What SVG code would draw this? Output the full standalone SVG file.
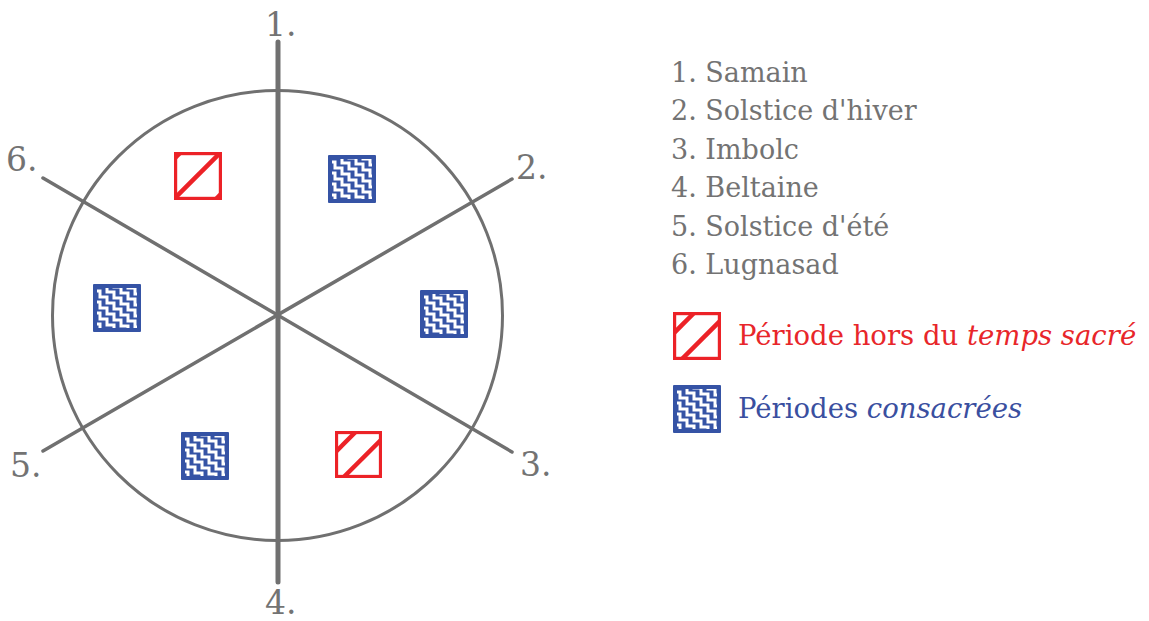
<svg xmlns="http://www.w3.org/2000/svg" xmlns:xlink="http://www.w3.org/1999/xlink" width="1149" height="621" viewBox="0 0 1149 621">
<style>
.ax{stroke:#707070;fill:none;stroke-linecap:round}
.num{font-family:"DejaVu Serif","Liberation Serif",serif;font-size:33px;fill:#737373}
.leg{font-family:"DejaVu Serif","Liberation Serif",serif;font-size:27px;fill:#737373}
.red{font-family:"DejaVu Serif","Liberation Serif",serif;font-size:27.5px;fill:#e8262a}
.blue{font-family:"DejaVu Serif","Liberation Serif",serif;font-size:27.5px;fill:#3a4f9f}
.it{font-style:italic}
.rb{fill:#fff;stroke:#ec2227;stroke-width:3.2}
.rh{stroke:#ec2227;stroke-width:4.5}
.st{fill:none;stroke:#fff;stroke-width:3}
</style>
<defs>
<clipPath id="inner"><rect x="4" y="4" width="40" height="40"/></clipPath>
<symbol id="redA" viewBox="0 0 48 48">
<rect class="rb" x="1.6" y="1.6" width="44.8" height="44.8"/>
<line class="rh" x1="-2" y1="9" x2="9" y2="-2"/>
<line class="rh" x1="-2" y1="49" x2="49" y2="-2"/>
<line class="rh" x1="39" y1="50" x2="50" y2="39"/>
</symbol>
<symbol id="redB" viewBox="0 0 48 48">
<rect class="rb" x="1.6" y="1.6" width="44.8" height="44.8"/>
<line class="rh" x1="-2" y1="24" x2="24" y2="-2"/>
<line class="rh" x1="6" y1="50" x2="50" y2="6"/>
</symbol>
<symbol id="blueT" viewBox="0 0 48 48">
<rect x="0" y="0" width="48" height="48" fill="#3553a5" rx="1"/>
<g clip-path="url(#inner)">
<path class="st" id="stair" d="M0,-4 h7 v6 h7 v6 h7 v6 h7 v6 h7 v6 h7 v6 h7 v6 h7 v6"/>
<use href="#stair" y="11"/>
<use href="#stair" y="22"/>
<use href="#stair" y="33"/>
<use href="#stair" y="44"/>
<use href="#stair" y="-11"/>
<use href="#stair" y="-22"/>
<use href="#stair" y="-33"/>
<use href="#stair" y="-44"/>
</g>
</symbol>
</defs>
<rect width="1149" height="621" fill="#fff"/>
<g id="connectors">
<circle class="ax" cx="277.5" cy="315.5" r="225" stroke-width="3"/>
<line class="ax" x1="43" y1="178" x2="512" y2="452" stroke-width="3.5"/>
<line class="ax" x1="512" y1="179" x2="43" y2="451" stroke-width="3.5"/>
<line class="ax" x1="278" y1="42" x2="278" y2="582" stroke-width="5" stroke-linecap="butt"/>
</g>
<g id="labels">
<text class="num" x="265" y="36">1.</text>
<text class="num" x="516" y="179">2.</text>
<text class="num" x="520" y="476">3.</text>
<text class="num" x="265" y="614">4.</text>
<text class="num" x="10" y="477">5.</text>
<text class="num" x="6" y="171">6.</text>
</g>
<g id="sectors">
<use href="#redA" x="174" y="152" width="48" height="48"/>
<use href="#blueT" x="328" y="155" width="48" height="48"/>
<use href="#blueT" x="420" y="290" width="48" height="48"/>
<use href="#redB" x="335" y="431" width="47" height="47"/>
<use href="#blueT" x="181" y="432" width="48" height="48"/>
<use href="#blueT" x="93" y="284" width="48" height="48"/>
</g>
<g id="legend">
<text class="leg" x="671" y="82">1. Samain</text>
<text class="leg" x="671" y="120">2. Solstice d'hiver</text>
<text class="leg" x="671" y="159">3. Imbolc</text>
<text class="leg" x="671" y="197">4. Beltaine</text>
<text class="leg" x="671" y="236">5. Solstice d'été</text>
<text class="leg" x="671" y="274">6. Lugnasad</text>
<use href="#redB" x="673" y="312" width="48" height="48"/>
<text class="red" x="738" y="345">Période hors du <tspan class="it">temps sacré</tspan></text>
<use href="#blueT" x="673" y="385" width="48" height="48"/>
<text class="blue" x="738" y="418">Périodes <tspan class="it">consacrées</tspan></text>
</g>
</svg>
